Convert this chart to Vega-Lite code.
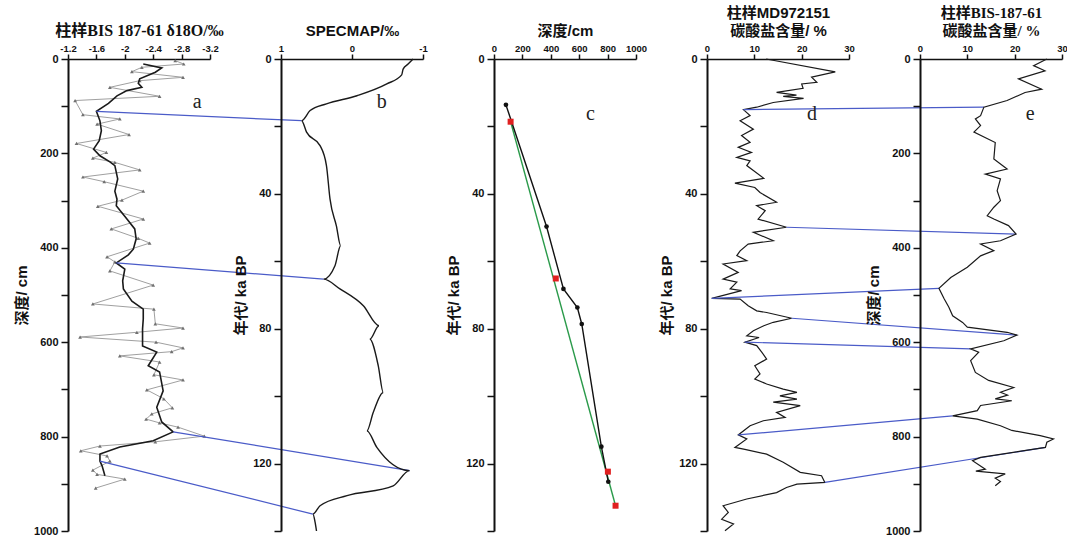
{
  "$schema": "https://vega.github.io/schema/vega-lite/v6.json",
  "background": "white",
  "padding": {"left": 14, "top": 5, "right": 2, "bottom": 5},
  "spacing": 71,
  "bounds": "flush",
  "config": {
    "view": {"stroke": null},
    "font": "Liberation Sans",
    "axis": {
      "grid": false,
      "labelOverlap": false,
      "domainColor": "#111111",
      "tickColor": "#111111",
      "labelColor": "#111111",
      "titleColor": "#111111",
      "labelFont": "Liberation Sans",
      "labelFontWeight": "bold",
      "titleFont": "Liberation Sans, Noto Sans CJK SC",
      "titleFontWeight": "bold"
    },
    "axisX": {"domainWidth": 1.5, "tickWidth": 1.5, "tickSize": 5, "labelFlush": false, "labelFont": "Liberation Sans Narrow, Liberation Sans", "labelFontSize": 9.5, "labelPadding": 1, "titleFontSize": 15, "titlePadding": 5, "titleLineHeight": 18},
    "axisY": {"domainWidth": 2, "tickWidth": 1.5, "tickSize": 7, "labelFlush": false, "labelFontSize": 11, "labelPadding": 3, "titleFontSize": 15, "titlePadding": 4}
  },
  "datasets": {
    "a_raw": [
      {"depth": 3.5, "d18O": -2.71}, {"depth": 10.6, "d18O": -2.83}, {"depth": 17.6, "d18O": -2.24}, {"depth": 26.8, "d18O": -2.10},
      {"depth": 38.8, "d18O": -2.82}, {"depth": 45.9, "d18O": -2.21}, {"depth": 60, "d18O": -1.79}, {"depth": 79, "d18O": -2.49},
      {"depth": 88, "d18O": -1.30}, {"depth": 118, "d18O": -1.41}, {"depth": 127, "d18O": -1.93}, {"depth": 138, "d18O": -1.61},
      {"depth": 160, "d18O": -2.06}, {"depth": 179, "d18O": -1.32}, {"depth": 198, "d18O": -1.74}, {"depth": 210, "d18O": -1.55},
      {"depth": 219, "d18O": -1.86}, {"depth": 235, "d18O": -2.21}, {"depth": 250, "d18O": -1.41}, {"depth": 260, "d18O": -1.71},
      {"depth": 280, "d18O": -2.26}, {"depth": 299, "d18O": -1.96}, {"depth": 312, "d18O": -1.62}, {"depth": 339, "d18O": -2.26},
      {"depth": 360, "d18O": -1.81}, {"depth": 380, "d18O": -2.19}, {"depth": 390, "d18O": -2.35}, {"depth": 419, "d18O": -1.75},
      {"depth": 430, "d18O": -1.86}, {"depth": 449, "d18O": -1.79}, {"depth": 479, "d18O": -2.40}, {"depth": 519, "d18O": -1.55},
      {"depth": 530, "d18O": -2.41}, {"depth": 561, "d18O": -2.43}, {"depth": 570, "d18O": -2.82}, {"depth": 579, "d18O": -2.17},
      {"depth": 589, "d18O": -1.37}, {"depth": 600, "d18O": -2.44}, {"depth": 612, "d18O": -2.82}, {"depth": 620, "d18O": -2.66},
      {"depth": 629, "d18O": -1.93}, {"depth": 642, "d18O": -2.49}, {"depth": 669, "d18O": -2.41}, {"depth": 680, "d18O": -2.82},
      {"depth": 701, "d18O": -2.31}, {"depth": 720, "d18O": -2.55}, {"depth": 739, "d18O": -2.67}, {"depth": 752, "d18O": -2.38},
      {"depth": 763, "d18O": -2.30}, {"depth": 771, "d18O": -2.49}, {"depth": 780, "d18O": -2.75}, {"depth": 799, "d18O": -3.12},
      {"depth": 811, "d18O": -2.43}, {"depth": 820, "d18O": -1.65}, {"depth": 830, "d18O": -1.38}, {"depth": 841, "d18O": -1.75},
      {"depth": 852, "d18O": -1.79}, {"depth": 871, "d18O": -1.55}, {"depth": 880, "d18O": -1.61}, {"depth": 890, "d18O": -2.00},
      {"depth": 909, "d18O": -1.59}
    ],
    "a_smooth": [
      {"depth": 10.6, "d18O": -2.26}, {"depth": 19, "d18O": -2.52}, {"depth": 28, "d18O": -2.43}, {"depth": 42, "d18O": -2.21},
      {"depth": 51.5, "d18O": -2.19}, {"depth": 60, "d18O": -2.24}, {"depth": 67, "d18O": -2.03}, {"depth": 78, "d18O": -1.89},
      {"depth": 94, "d18O": -1.77}, {"depth": 111, "d18O": -1.60}, {"depth": 131, "d18O": -1.65}, {"depth": 152, "d18O": -1.67},
      {"depth": 173, "d18O": -1.64}, {"depth": 191, "d18O": -1.56}, {"depth": 205, "d18O": -1.65}, {"depth": 218, "d18O": -1.79},
      {"depth": 226, "d18O": -1.86}, {"depth": 254, "d18O": -1.90}, {"depth": 280, "d18O": -1.86}, {"depth": 297, "d18O": -1.89},
      {"depth": 311, "d18O": -1.88}, {"depth": 339, "d18O": -2.03}, {"depth": 360, "d18O": -2.14}, {"depth": 381, "d18O": -2.16},
      {"depth": 403, "d18O": -2.12}, {"depth": 415, "d18O": -2.05}, {"depth": 432, "d18O": -1.88}, {"depth": 445, "d18O": -2.00},
      {"depth": 470, "d18O": -1.97}, {"depth": 487, "d18O": -1.98}, {"depth": 513, "d18O": -2.10}, {"depth": 530, "d18O": -2.26},
      {"depth": 551, "d18O": -2.26}, {"depth": 572, "d18O": -2.25}, {"depth": 608, "d18O": -2.25}, {"depth": 621, "d18O": -2.45},
      {"depth": 650, "d18O": -2.33}, {"depth": 663, "d18O": -2.49}, {"depth": 703, "d18O": -2.54}, {"depth": 738, "d18O": -2.45},
      {"depth": 769, "d18O": -2.52}, {"depth": 790, "d18O": -2.68}, {"depth": 809, "d18O": -2.40}, {"depth": 822, "d18O": -1.93},
      {"depth": 837, "d18O": -1.65}, {"depth": 852, "d18O": -1.65}, {"depth": 862, "d18O": -1.68}, {"depth": 883, "d18O": -1.72}
    ],
    "conn_ab": [
      {"id": 1, "depth": 111, "d18O": -1.60}, {"id": 1, "depth": 130.7, "d18O": -4.49},
      {"id": 2, "depth": 432, "d18O": -1.88}, {"id": 2, "depth": 466.4, "d18O": -4.80},
      {"id": 3, "depth": 790, "d18O": -2.68}, {"id": 3, "depth": 872.1, "d18O": -6.01},
      {"id": 4, "depth": 852, "d18O": -1.65}, {"id": 4, "depth": 964.3, "d18O": -4.65}
    ],
    "specmap": [
      {"age": 0, "v": -0.86}, {"age": 1.5, "v": -0.79}, {"age": 3, "v": -0.72}, {"age": 4.7, "v": -0.70},
      {"age": 7.4, "v": -0.49}, {"age": 10.9, "v": -0.07}, {"age": 13.3, "v": 0.36}, {"age": 15.3, "v": 0.59},
      {"age": 18.3, "v": 0.71}, {"age": 21.7, "v": 0.64}, {"age": 25.7, "v": 0.45}, {"age": 31.6, "v": 0.36},
      {"age": 41.5, "v": 0.31}, {"age": 49.5, "v": 0.22}, {"age": 55.4, "v": 0.16}, {"age": 61.3, "v": 0.24},
      {"age": 65.3, "v": 0.40}, {"age": 68.2, "v": 0.17}, {"age": 73.2, "v": -0.16}, {"age": 79.1, "v": -0.38},
      {"age": 83.1, "v": -0.25}, {"age": 91, "v": -0.37}, {"age": 98.9, "v": -0.44}, {"age": 104.8, "v": -0.30},
      {"age": 110.3, "v": -0.21}, {"age": 115.2, "v": -0.35}, {"age": 122.1, "v": -0.81}, {"age": 126.6, "v": -0.58},
      {"age": 129.5, "v": 0.07}, {"age": 132.5, "v": 0.45}, {"age": 135, "v": 0.55}, {"age": 137.4, "v": 0.52},
      {"age": 140, "v": 0.50}
    ],
    "c_black": [
      {"depth": 84, "age": 13.6}, {"depth": 370, "age": 49.7}, {"depth": 489, "age": 68.2}, {"depth": 587, "age": 73.7},
      {"depth": 618, "age": 78.6}, {"depth": 756, "age": 115}, {"depth": 805, "age": 125.4}
    ],
    "c_red": [
      {"depth": 117, "age": 18.6}, {"depth": 435, "age": 65.1}, {"depth": 802, "age": 122.4}, {"depth": 856, "age": 132.5}
    ],
    "c_fit": [
      {"depth": 117, "age": 18.6}, {"depth": 856, "age": 132.5}
    ],
    "d_md": [
      {"age": 0, "carb": 12.5}, {"age": 3.8, "carb": 27.1}, {"age": 5.4, "carb": 22.1}, {"age": 6.9, "carb": 23.2},
      {"age": 7.4, "carb": 20.0}, {"age": 8.7, "carb": 20.3}, {"age": 9.9, "carb": 14.7}, {"age": 10.7, "carb": 18.9},
      {"age": 11.1, "carb": 16.1}, {"age": 11.7, "carb": 20.4}, {"age": 12.9, "carb": 14.0}, {"age": 14.3, "carb": 10.5},
      {"age": 15.0, "carb": 7.7}, {"age": 16.8, "carb": 9.1}, {"age": 18.3, "carb": 7.0}, {"age": 20.8, "carb": 9.8},
      {"age": 22.7, "carb": 7.3}, {"age": 24.7, "carb": 9.1}, {"age": 26.2, "carb": 6.6}, {"age": 27.7, "carb": 9.4},
      {"age": 29.2, "carb": 6.3}, {"age": 30.2, "carb": 9.1}, {"age": 31.6, "carb": 8.4}, {"age": 35.4, "carb": 12.0},
      {"age": 36.8, "carb": 5.9}, {"age": 38.1, "carb": 10.1}, {"age": 39.6, "carb": 11.2}, {"age": 42.5, "carb": 14.7},
      {"age": 43.5, "carb": 10.5}, {"age": 45.0, "carb": 12.3}, {"age": 47.5, "carb": 10.8}, {"age": 49.9, "carb": 16.8},
      {"age": 51.4, "carb": 9.8}, {"age": 53.9, "carb": 14.0}, {"age": 54.9, "carb": 8.7}, {"age": 56.9, "carb": 7.0},
      {"age": 58.3, "carb": 6.3}, {"age": 59.8, "carb": 8.4}, {"age": 60.8, "carb": 3.4}, {"age": 63.3, "carb": 6.6},
      {"age": 65.3, "carb": 3.4}, {"age": 66.2, "carb": 6.3}, {"age": 68.2, "carb": 4.9}, {"age": 68.7, "carb": 7.3},
      {"age": 71.0, "carb": 1.0}, {"age": 71.2, "carb": 7.0}, {"age": 73.2, "carb": 8.7}, {"age": 74.7, "carb": 10.5},
      {"age": 75.2, "carb": 12.6}, {"age": 76.9, "carb": 17.9}, {"age": 78.1, "carb": 14.0}, {"age": 79.1, "carb": 12.0},
      {"age": 80.6, "carb": 9.8}, {"age": 82.1, "carb": 8.4}, {"age": 82.6, "carb": 11.0}, {"age": 84.0, "carb": 8.0},
      {"age": 85, "carb": 10.5}, {"age": 87, "carb": 11.6}, {"age": 89, "carb": 12.6}, {"age": 91, "carb": 10.1},
      {"age": 93.4, "carb": 11.2}, {"age": 94.9, "carb": 10.1}, {"age": 96.4, "carb": 12.6}, {"age": 97.9, "carb": 16.1},
      {"age": 98.9, "carb": 19.0}, {"age": 99.9, "carb": 15.4}, {"age": 100.9, "carb": 19.0}, {"age": 101.8, "carb": 14.0},
      {"age": 102.8, "carb": 19.7}, {"age": 104.8, "carb": 14.7}, {"age": 106.3, "carb": 16.5}, {"age": 107.3, "carb": 11.9},
      {"age": 108.8, "carb": 9.1}, {"age": 111.5, "carb": 6.6}, {"age": 112.7, "carb": 8.4}, {"age": 115.2, "carb": 5.9},
      {"age": 115.8, "carb": 8.0}, {"age": 117.2, "carb": 12.6}, {"age": 119.6, "carb": 16.1}, {"age": 122.6, "carb": 19.7},
      {"age": 123.6, "carb": 24.2}, {"age": 125.6, "carb": 24.9}, {"age": 126.1, "carb": 19.0}, {"age": 127.1, "carb": 16.8},
      {"age": 128.6, "carb": 14.7}, {"age": 130.5, "carb": 8.4}, {"age": 132.5, "carb": 3.4}, {"age": 134.5, "carb": 4.5},
      {"age": 136.5, "carb": 3.1}, {"age": 137.9, "carb": 5.6}, {"age": 139.9, "carb": 3.8}
    ],
    "conn_de": [
      {"id": 1, "age": 15.0, "carb": 7.7}, {"id": 1, "age": 14.28, "carb": 58.5},
      {"id": 2, "age": 49.9, "carb": 16.8}, {"id": 2, "age": 51.94, "carb": 65.3},
      {"id": 3, "age": 71.0, "carb": 1.0}, {"id": 3, "age": 68.04, "carb": 49.0},
      {"id": 4, "age": 76.9, "carb": 17.9}, {"id": 4, "age": 81.9, "carb": 65.5},
      {"id": 5, "age": 84.0, "carb": 8.0}, {"id": 5, "age": 85.96, "carb": 55.7},
      {"id": 6, "age": 111.5, "carb": 6.6}, {"id": 6, "age": 105.84, "carb": 51.9},
      {"id": 7, "age": 125.6, "carb": 24.9}, {"id": 7, "age": 115.2, "carb": 71.5}
    ],
    "e_bis": [
      {"depth": 0, "carb": 26.8}, {"depth": 14, "carb": 24.0}, {"depth": 25, "carb": 26.4}, {"depth": 42, "carb": 20.8},
      {"depth": 64, "carb": 25.7}, {"depth": 71, "carb": 22.2}, {"depth": 88, "carb": 18.4}, {"depth": 102, "carb": 13.5},
      {"depth": 120, "carb": 12.8}, {"depth": 127, "carb": 11.7}, {"depth": 141, "carb": 12.8}, {"depth": 155, "carb": 11.4},
      {"depth": 177, "carb": 15.9}, {"depth": 212, "carb": 15.6}, {"depth": 233, "carb": 18.4}, {"depth": 244, "carb": 13.8},
      {"depth": 254, "carb": 17.0}, {"depth": 279, "carb": 16.3}, {"depth": 300, "carb": 17.0}, {"depth": 314, "carb": 15.6},
      {"depth": 332, "carb": 14.2}, {"depth": 339, "carb": 15.6}, {"depth": 353, "carb": 18.7}, {"depth": 371, "carb": 20.3},
      {"depth": 385, "carb": 17.0}, {"depth": 392, "carb": 12.8}, {"depth": 406, "carb": 15.6}, {"depth": 417, "carb": 12.8},
      {"depth": 441, "carb": 10.0}, {"depth": 463, "carb": 6.5}, {"depth": 486, "carb": 4.0}, {"depth": 508, "carb": 5.1},
      {"depth": 526, "carb": 6.1}, {"depth": 544, "carb": 6.9}, {"depth": 558, "carb": 9.0}, {"depth": 568, "carb": 10.0},
      {"depth": 579, "carb": 18.4}, {"depth": 585, "carb": 20.5}, {"depth": 597, "carb": 17.7}, {"depth": 614, "carb": 10.7},
      {"depth": 621, "carb": 12.4}, {"depth": 639, "carb": 10.7}, {"depth": 664, "carb": 11.7}, {"depth": 681, "carb": 14.5},
      {"depth": 696, "carb": 19.8}, {"depth": 706, "carb": 17.0}, {"depth": 712, "carb": 18.5}, {"depth": 720, "carb": 15.9},
      {"depth": 724, "carb": 19.4}, {"depth": 734, "carb": 12.8}, {"depth": 745, "carb": 12.1}, {"depth": 756, "carb": 6.9},
      {"depth": 763, "carb": 12.1}, {"depth": 777, "carb": 17.0}, {"depth": 787, "carb": 19.4}, {"depth": 798, "carb": 25.4},
      {"depth": 805, "carb": 28.2}, {"depth": 812, "carb": 26.8}, {"depth": 823, "carb": 26.5}, {"depth": 844, "carb": 12.8},
      {"depth": 851, "carb": 11.1}, {"depth": 869, "carb": 13.8}, {"depth": 873, "carb": 11.8}, {"depth": 879, "carb": 18.0},
      {"depth": 888, "carb": 15.9}, {"depth": 895, "carb": 17.0}, {"depth": 904, "carb": 15.9}
    ]
  },
  "hconcat": [
    {
      "width": 142,
      "height": 472,
      "encoding": {
        "y": {"field": "depth", "type": "quantitative", "scale": {"domain": [0, 1000], "reverse": true, "nice": false},
          "axis": {"values": [0, 100, 200, 300, 400, 500, 600, 700, 800, 900, 1000], "labelExpr": "datum.value % 200 === 0 ? datum.value + '' : ''", "title": "深度/ cm"}},
        "x": {"field": "d18O", "type": "quantitative", "scale": {"domain": [-1.2, -3.2], "nice": false, "zero": false},
          "axis": {"orient": "top", "values": [-1.2, -1.6, -2, -2.4, -2.8, -3.2], "labelExpr": "datum.value + ''", "title": "柱样BIS 187-61 δ18O/‰", "titleFont": "Liberation Serif, Noto Sans CJK SC", "titleFontSize": 16}}
      },
      "layer": [
        {"data": {"name": "a_raw"}, "mark": {"type": "line", "color": "#a0a0a0", "strokeWidth": 1, "point": {"shape": "triangle-up", "size": 14, "filled": true, "color": "#707070"}},
          "encoding": {"order": {"field": "depth"}}},
        {"data": {"name": "a_smooth"}, "mark": {"type": "line", "color": "#1a1a1a", "strokeWidth": 1.6},
          "encoding": {"order": {"field": "depth"}}},
        {"data": {"name": "conn_ab"}, "mark": {"type": "line", "color": "#4a5bc8", "strokeWidth": 1.2, "clip": false},
          "encoding": {"detail": {"field": "id"}, "order": {"field": "depth"}}},
        {"data": {"values": [{"d18O": -3.02, "depth": 91, "label": "a"}]}, "mark": {"type": "text", "font": "Liberation Serif", "fontSize": 20, "color": "#222222"},
          "encoding": {"text": {"field": "label"}}}
      ]
    },
    {
      "width": 142,
      "height": 472,
      "encoding": {
        "y": {"field": "age", "type": "quantitative", "scale": {"domain": [0, 140], "reverse": true, "nice": false},
          "axis": {"values": [0, 20, 40, 60, 80, 100, 120, 140], "labelExpr": "datum.value % 40 === 0 ? datum.value + '' : ''", "title": "年代/ ka BP"}},
        "x": {"field": "v", "type": "quantitative", "scale": {"domain": [1, -1], "nice": false, "zero": false},
          "axis": {"orient": "top", "values": [1, 0, -1], "labelExpr": "datum.value + ''", "title": "SPECMAP/‰"}}
      },
      "layer": [
        {"data": {"name": "specmap"}, "mark": {"type": "line", "color": "#1a1a1a", "strokeWidth": 1.4, "interpolate": "monotone"},
          "encoding": {"order": {"field": "age"}}},
        {"data": {"values": [{"v": -0.42, "age": 12.8, "label": "b"}]}, "mark": {"type": "text", "font": "Liberation Serif", "fontSize": 20, "color": "#222222"},
          "encoding": {"text": {"field": "label"}}}
      ]
    },
    {
      "width": 142,
      "height": 472,
      "encoding": {
        "y": {"field": "age", "type": "quantitative", "scale": {"domain": [0, 140], "reverse": true, "nice": false},
          "axis": {"values": [0, 20, 40, 60, 80, 100, 120, 140], "labelExpr": "datum.value % 40 === 0 ? datum.value + '' : ''", "title": "年代/ ka BP"}},
        "x": {"field": "depth", "type": "quantitative", "scale": {"domain": [0, 1000], "nice": false},
          "axis": {"orient": "top", "values": [0, 200, 400, 600, 800, 1000], "labelExpr": "datum.value + ''", "title": "深度/cm"}}
      },
      "layer": [
        {"data": {"name": "c_fit"}, "mark": {"type": "line", "color": "#2a9a4a", "strokeWidth": 1.4},
          "encoding": {"order": {"field": "age"}}},
        {"data": {"name": "c_black"}, "mark": {"type": "line", "color": "#111111", "strokeWidth": 1.4, "point": {"shape": "circle", "size": 22, "filled": true, "color": "#111111"}},
          "encoding": {"order": {"field": "age"}}},
        {"data": {"name": "c_red"}, "mark": {"type": "point", "shape": "square", "size": 36, "filled": true, "color": "#e02020", "opacity": 1}},
        {"data": {"values": [{"depth": 680, "age": 16.3, "label": "c"}]}, "mark": {"type": "text", "font": "Liberation Serif", "fontSize": 20, "color": "#222222"},
          "encoding": {"text": {"field": "label"}}}
      ]
    },
    {
      "width": 142,
      "height": 472,
      "encoding": {
        "y": {"field": "age", "type": "quantitative", "scale": {"domain": [0, 140], "reverse": true, "nice": false},
          "axis": {"values": [0, 20, 40, 60, 80, 100, 120, 140], "labelExpr": "datum.value % 40 === 0 ? datum.value + '' : ''", "title": "年代/ ka BP"}},
        "x": {"field": "carb", "type": "quantitative", "scale": {"domain": [0, 30], "nice": false},
          "axis": {"orient": "top", "values": [0, 10, 20, 30], "title": ["柱样MD972151", "碳酸盐含量/ %"]}}
      },
      "layer": [
        {"data": {"name": "d_md"}, "mark": {"type": "line", "color": "#1a1a1a", "strokeWidth": 1.2},
          "encoding": {"order": {"field": "age"}}},
        {"data": {"name": "conn_de"}, "mark": {"type": "line", "color": "#4a5bc8", "strokeWidth": 1.2, "clip": false},
          "encoding": {"detail": {"field": "id"}, "order": {"field": "carb"}}},
        {"data": {"values": [{"carb": 22.2, "age": 16.3, "label": "d"}]}, "mark": {"type": "text", "font": "Liberation Serif", "fontSize": 20, "color": "#222222"},
          "encoding": {"text": {"field": "label"}}}
      ]
    },
    {
      "width": 142,
      "height": 472,
      "encoding": {
        "y": {"field": "depth", "type": "quantitative", "scale": {"domain": [0, 1000], "reverse": true, "nice": false},
          "axis": {"values": [0, 100, 200, 300, 400, 500, 600, 700, 800, 900, 1000], "labelExpr": "datum.value % 200 === 0 ? datum.value + '' : ''", "title": "深度/ cm"}},
        "x": {"field": "carb", "type": "quantitative", "scale": {"domain": [0, 30], "nice": false},
          "axis": {"orient": "top", "values": [0, 10, 20, 30], "title": ["柱样BIS-187-61", "碳酸盐含量/ %"], "titleFont": "Liberation Serif, Noto Sans CJK SC"}}
      },
      "layer": [
        {"data": {"name": "e_bis"}, "mark": {"type": "line", "color": "#1a1a1a", "strokeWidth": 1.2},
          "encoding": {"order": {"field": "depth"}}},
        {"data": {"values": [{"carb": 23.3, "depth": 117, "label": "e"}]}, "mark": {"type": "text", "font": "Liberation Serif", "fontSize": 20, "color": "#222222"},
          "encoding": {"text": {"field": "label"}}}
      ]
    }
  ]
}
